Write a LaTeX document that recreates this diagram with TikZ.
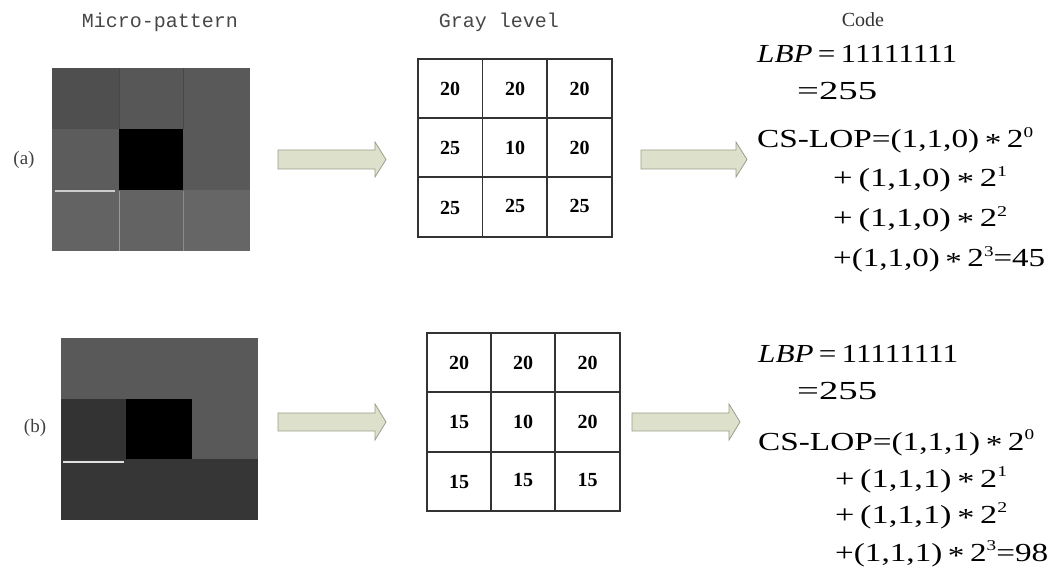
\documentclass[tikz,border=0pt]{standalone}
\usepackage{fontspec}
\usepackage{graphicx}
\setmainfont{Liberation Serif}
\newfontfamily\monof{Liberation Mono}
\definecolor{arrowfill}{HTML}{DDE0CB}
\definecolor{arrowdraw}{HTML}{9D9D8A}
\definecolor{griddraw}{HTML}{333333}
\newcommand{\mulop}{\,\raisebox{-0.12em}{*}\,}
\newcommand{\expo}[1]{\raisebox{0.42em}{\fontsize{15}{15}\selectfont #1}}
\begin{document}
\begin{tikzpicture}[x=1pt,y=-1pt,
  title/.style={font=\monof\fontsize{20}{22}\selectfont, text=black!72, inner sep=0},
  lab/.style={font=\fontsize{19}{21}\selectfont, text=black!75, inner sep=0},
  num/.style={font=\bfseries\fontsize{20}{22}\selectfont, inner sep=0},
  gline/.style={draw=griddraw, line width=1.4pt},
  blockarrow/.style={fill=arrowfill, draw=arrowdraw, line width=0.8pt},
  code/.style={anchor=base west, inner sep=0, font=\fontsize{26}{28}\selectfont}]
\useasboundingbox (0,0) rectangle (1053,585);

% titles
\node[title] (t1) at (160,22) {Micro-pattern};
\node[title] (t2) at (499,22) {Gray level};
\node[lab, font=\fontsize{20}{22}\selectfont, text=black!80] (t3) at (863,20) {Code};

% labels
\node[lab] (la) at (24,160) {(a)};
\node[lab] (lb) at (35,428) {(b)};

% micro pattern (a)
\fill[black!69] (52,68) rectangle (119,129);
\fill[black!66] (119,68) rectangle (183,129);
\fill[black!65] (183,68) rectangle (250,129);
\fill[black!64] (52,129) rectangle (119,190);
\fill[black] (119,129) rectangle (183,190);
\fill[black!65] (183,129) rectangle (250,190);
\fill[black!61] (52,190) rectangle (119,251);
\fill[black!61] (119,190) rectangle (183,251);
\fill[black!60] (183,190) rectangle (250,251);
\draw[black!72, line width=0.8pt] (119,68) -- (119,129) (183,68) -- (183,129);
\draw[black!20, line width=2pt] (55,191.5) -- (115,191.5);
\draw[black!45, line width=1pt] (183,191) -- (183,251);
\draw[black!40, line width=0.6pt] (119,191) -- (119,251);

% micro pattern (b)
\fill[black!65] (61,338) rectangle (126,399);
\fill[black!65] (126,338) rectangle (192,399);
\fill[black!65] (192,338) rectangle (258,399);
\fill[black!80] (61,399) rectangle (126,459);
\fill[black] (126,399) rectangle (192,459);
\fill[black!65] (192,399) rectangle (258,459);
\fill[black!79] (61,459) rectangle (126,520);
\fill[black!79] (126,459) rectangle (192,520);
\fill[black!79] (192,459) rectangle (258,520);
\draw[black!12, line width=2pt] (63,462) -- (124,462);

% block arrows
\draw[blockarrow] (278,150) -- (375,150) -- (375,142) -- (386,159.5) -- (375,177) -- (375,169) -- (278,169) -- cycle;
\draw[blockarrow] (641,150) -- (736,150) -- (736,142) -- (747,159.5) -- (736,177) -- (736,169) -- (641,169) -- cycle;
\draw[blockarrow] (278,413) -- (375,413) -- (375,404) -- (386,422) -- (375,440) -- (375,431) -- (278,431) -- cycle;
\draw[blockarrow] (632,413) -- (729,413) -- (729,404) -- (740,422) -- (729,440) -- (729,431) -- (632,431) -- cycle;

% gray level grid (a)
\draw[gline] (418,59) rectangle (612,237);
\draw[gline] (482.7,59) -- (482.7,237) (547,59) -- (547,237) (418,118) -- (612,118) (418,177) -- (612,177);
\node[num] (ga11) at (450,88.5) {20};
\node[num] (ga12) at (515,88.5) {20};
\node[num] (ga13) at (579.5,88.5) {20};
\node[num] (ga21) at (450,147.5) {25};
\node[num] (ga22) at (515,147.5) {10};
\node[num] (ga23) at (579.5,147.5) {20};
\node[num] (ga31) at (450,208) {25};
\node[num] (ga32) at (515,206) {25};
\node[num] (ga33) at (579.5,206) {25};

% gray level grid (b)
\draw[gline] (427,333) rectangle (620,511);
\draw[gline] (491,333) -- (491,511) (555,333) -- (555,511) (427,392) -- (620,392) (427,452) -- (620,452);
\node[num] (gb11) at (459,362.5) {20};
\node[num] (gb12) at (523,362.5) {20};
\node[num] (gb13) at (587.5,362.5) {20};
\node[num] (gb21) at (459,422) {15};
\node[num] (gb22) at (523,422) {10};
\node[num] (gb23) at (587.5,422) {20};
\node[num] (gb31) at (459,482) {15};
\node[num] (gb32) at (523,480) {15};
\node[num] (gb33) at (587.5,480) {15};

% code (a)
\node[code] (ca1) at (757,63) {\resizebox{200pt}{\height}{\textit{LBP}\,=\,11111111}};
\node[code] (ca2) at (797,100) {\resizebox{80pt}{\height}{=255}};
\node[code] (ca3) at (757,148) {\resizebox{276pt}{\height}{CS-LOP=(1,1,0)\mulop 2\expo{0}}};
\node[code] (ca4) at (833,187) {\resizebox{174pt}{\height}{+\,(1,1,0)\mulop 2\expo{1}}};
\node[code] (ca5) at (833,227) {\resizebox{174pt}{\height}{+\,(1,1,0)\mulop 2\expo{2}}};
\node[code] (ca6) at (833,267) {\resizebox{212pt}{\height}{+(1,1,0)\mulop 2\expo{3}=45}};

% code (b)
\node[code] (cb1) at (758,363) {\resizebox{200pt}{\height}{\textit{LBP}\,=\,11111111}};
\node[code] (cb2) at (797,400) {\resizebox{80pt}{\height}{=255}};
\node[code] (cb3) at (758,450) {\resizebox{276pt}{\height}{CS-LOP=(1,1,1)\mulop 2\expo{0}}};
\node[code] (cb4) at (835,487) {\resizebox{172pt}{\height}{+\,(1,1,1)\mulop 2\expo{1}}};
\node[code] (cb5) at (835,523) {\resizebox{172pt}{\height}{+\,(1,1,1)\mulop 2\expo{2}}};
\node[code] (cb6) at (835,561) {\resizebox{213pt}{\height}{+(1,1,1)\mulop 2\expo{3}=98}};
\end{tikzpicture}
\end{document}
